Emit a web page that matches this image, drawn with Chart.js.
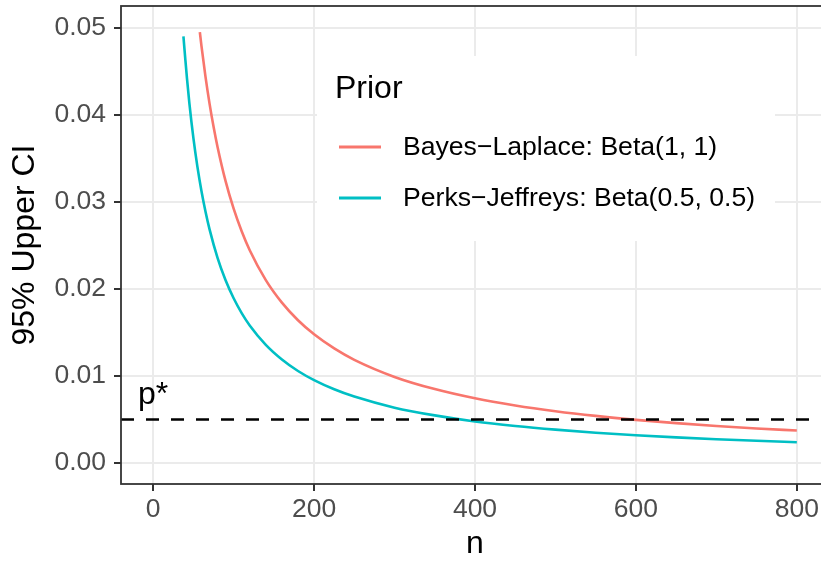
<!DOCTYPE html>
<html>
<head>
<meta charset="utf-8">
<script src="https://cdn.jsdelivr.net/npm/chart.js@4.4.1/dist/chart.umd.min.js"></script>
<style>
  html, body { margin: 0; padding: 0; background: #ffffff; overflow: hidden; }
  #wrap { width: 830px; height: 563px; }
</style>
</head>
<body>
<div id="wrap"><canvas id="ciChart" width="830" height="563"></canvas></div>
<script>
// Bayes-Laplace prior, Beta(1, 1): sample size n and 95% upper limit
const nBayes = [58, 60, 65, 70, 75, 80, 90, 100, 110, 120, 140, 160, 180, 200, 225, 250,
                300, 350, 400, 450, 500, 550, 600, 650, 700, 750, 800];
const upperBayes = [0.0495, 0.04792, 0.04438, 0.04132, 0.03865, 0.03631, 0.03238, 0.02922,
                    0.02663, 0.02445, 0.02102, 0.01843, 0.01641, 0.01479, 0.01317, 0.01186,
                    0.00990, 0.00850, 0.00744, 0.00662, 0.00596, 0.00542, 0.00497, 0.00459,
                    0.00426, 0.00398, 0.00374];

// Perks-Jeffreys prior, Beta(0.5, 0.5)
const nJeffreys = [37.6, 40, 42, 45, 50, 55, 60, 65, 70, 80, 90, 100, 110, 120, 140, 160, 180,
                   200, 225, 250, 300, 350, 400, 450, 500, 550, 600, 650, 700, 750, 800];
const upperJeffreys = [0.0490, 0.04632, 0.04419, 0.04133, 0.03732, 0.03402, 0.03125, 0.02890,
                       0.02688, 0.02358, 0.02100, 0.01893, 0.01723, 0.01581, 0.01358, 0.01190,
                       0.01058, 0.00953, 0.00848, 0.00764, 0.00637, 0.00548, 0.00478, 0.00426,
                       0.00384, 0.00349, 0.00320, 0.00295, 0.00274, 0.00256, 0.00240];

const pStar = 0.005;
const xTicks = [0, 200, 400, 600, 800];
const yTicks = [0.00, 0.01, 0.02, 0.03, 0.04, 0.05];
const seriesNames = ['Bayes\u2212Laplace: Beta(1, 1)', 'Perks\u2212Jeffreys: Beta(0.5, 0.5)'];
const seriesColors = ['#F8766D', '#00BFC4'];

const FONT = "'Liberation Sans', Arial, Helvetica, sans-serif";
const X_MIN = -40, X_MAX = 840;

function toPoints(xs, ys) {
    return xs.map((x, i) => ({ x: x, y: ys[i] }));
}

// panel border, p* label and the legend box inside the panel
const ggExtras = {
    id: 'ggExtras',
    afterDatasetsDraw(chart) {
        const ctx = chart.ctx;
        const area = chart.chartArea;
        const xs = chart.scales.x;
        const ys = chart.scales.y;

        // p* text above the dashed line
        ctx.save();
        ctx.fillStyle = '#000000';
        ctx.font = '32px ' + FONT;
        ctx.textAlign = 'center';
        ctx.textBaseline = 'alphabetic';
        ctx.fillText('p*', xs.getPixelForValue(0), ys.getPixelForValue(pStar) - 16);
        ctx.restore();

        // legend
        ctx.save();
        ctx.fillStyle = '#ffffff';
        ctx.fillRect(317, 56, 458, 185);
        ctx.fillStyle = '#000000';
        ctx.font = '32px ' + FONT;
        ctx.textAlign = 'left';
        ctx.textBaseline = 'alphabetic';
        ctx.fillText('Prior', 335, 98);
        ctx.font = '26.6px ' + FONT;
        ctx.textBaseline = 'middle';
        const rows = [147, 198];
        seriesNames.forEach((name, i) => {
            ctx.strokeStyle = seriesColors[i];
            ctx.lineWidth = 2.8;
            ctx.beginPath();
            ctx.moveTo(339, rows[i]);
            ctx.lineTo(381, rows[i]);
            ctx.stroke();
            ctx.fillStyle = '#000000';
            ctx.fillText(name, 403, rows[i] + 1);
        });
        ctx.restore();

        // panel border
        ctx.save();
        ctx.strokeStyle = '#333333';
        ctx.lineWidth = 1.8;
        ctx.strokeRect(area.left, area.top, area.right - area.left, area.bottom - area.top);
        ctx.restore();
    }
};

const ctx = document.getElementById('ciChart').getContext('2d');
new Chart(ctx, {
    type: 'line',
    data: {
        datasets: [
            {
                label: 'p*',
                data: [{ x: X_MIN, y: pStar }, { x: X_MAX, y: pStar }],
                borderColor: '#000000',
                borderWidth: 2.6,
                borderDash: [13, 12],
                pointRadius: 0,
                order: 0
            },
            {
                label: seriesNames[1],
                data: toPoints(nJeffreys, upperJeffreys),
                borderColor: seriesColors[1],
                borderWidth: 2.6,
                pointRadius: 0,
                cubicInterpolationMode: 'monotone',
                order: 1
            },
            {
                label: seriesNames[0],
                data: toPoints(nBayes, upperBayes),
                borderColor: seriesColors[0],
                borderWidth: 2.6,
                pointRadius: 0,
                cubicInterpolationMode: 'monotone',
                order: 2
            }
        ]
    },
    options: {
        responsive: false,
        animation: false,
        events: [],
        layout: { padding: { left: 0, right: 1, top: 6, bottom: 0 } },
        plugins: {
            legend: { display: false },
            tooltip: { enabled: false }
        },
        scales: {
            x: {
                type: 'linear',
                min: X_MIN,
                max: X_MAX,
                afterBuildTicks: (scale) => { scale.ticks = xTicks.map(v => ({ value: v })); },
                afterFit: (scale) => {
                    scale.height = 79;
                    scale.paddingLeft = 0;
                    scale.paddingRight = 0;
                },
                grid: { color: '#EBEBEB', lineWidth: 2, tickColor: '#333333', tickWidth: 2, tickLength: 7 },
                border: { display: false },
                ticks: {
                    color: '#4D4D4D',
                    font: { family: FONT, size: 26.5 },
                    padding: 3,
                    maxRotation: 0,
                    callback: (v) => String(v)
                },
                title: {
                    display: true,
                    text: 'n',
                    color: '#000000',
                    font: { family: FONT, size: 32 },
                    padding: { top: 0, bottom: 0 }
                }
            },
            y: {
                type: 'linear',
                min: -0.0024,
                max: 0.0525,
                afterBuildTicks: (scale) => { scale.ticks = yTicks.map(v => ({ value: v })); },
                afterFit: (scale) => {
                    scale.width = 121;
                    scale.paddingTop = 0;
                    scale.paddingBottom = 0;
                },
                grid: { color: '#EBEBEB', lineWidth: 2, tickColor: '#333333', tickWidth: 2, tickLength: 7 },
                border: { display: false },
                ticks: {
                    color: '#4D4D4D',
                    font: { family: FONT, size: 26.5 },
                    padding: 8,
                    callback: (v) => v.toFixed(2)
                },
                title: {
                    display: true,
                    text: '95% Upper CI',
                    color: '#000000',
                    font: { family: FONT, size: 32 },
                    padding: { top: 6, bottom: 0 }
                }
            }
        }
    },
    plugins: [ggExtras]
});
</script>
</body>
</html>
